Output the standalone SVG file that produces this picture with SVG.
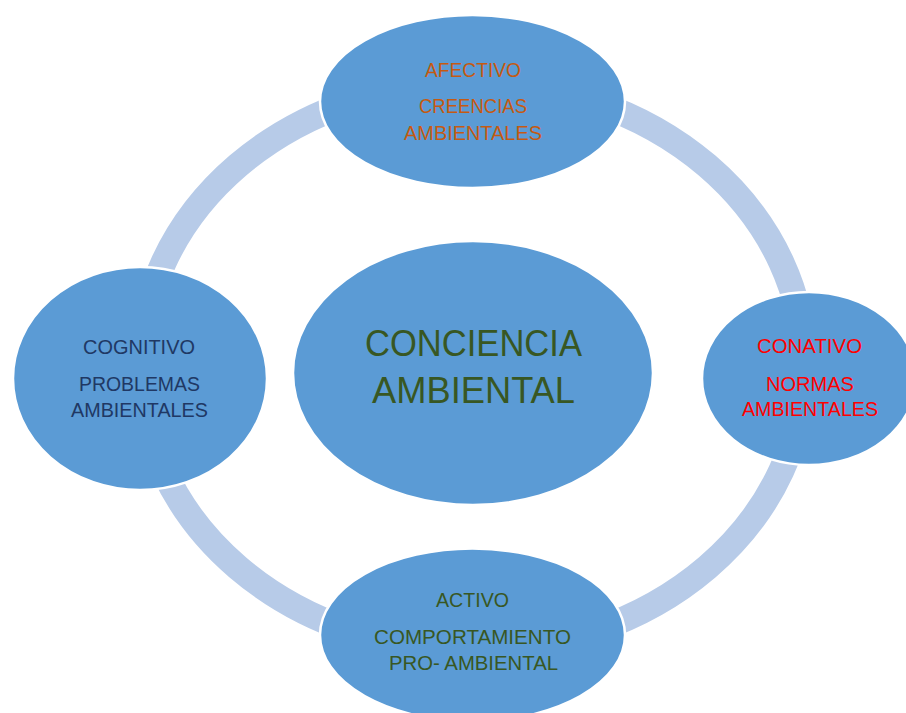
<svg xmlns="http://www.w3.org/2000/svg" width="906" height="713" viewBox="0 0 906 713">
  <style>
    .node { fill: #5b9bd5; stroke: #ffffff; stroke-width: 2.5; }
    .ring { fill: none; stroke: #b7cbe8; stroke-width: 26; stroke-linecap: butt; }
    text { font-family: "Liberation Sans", Arial, sans-serif; font-size: 21px; text-anchor: middle; }
    .big { font-size: 36px; }
    .orange { fill: #c55a11; }
    .navy { fill: #203864; }
    .red { fill: #ff0000; }
    .green { fill: #385723; }
  </style>
  <rect width="906" height="713" fill="#ffffff"/>
  <g id="connectors">
    <path class="ring" d="M472.5,82.5 A332,284 0 0 1 804.5,366.5"/>
    <path class="ring" d="M804.5,366.5 A332,284 0 0 1 472.5,650.5"/>
    <path class="ring" d="M472.5,650.5 A332,284 0 0 1 140.5,366.5"/>
    <path class="ring" d="M140.5,366.5 A332,284 0 0 1 472.5,82.5"/>
  </g>
  <g id="center">
    <ellipse class="node" cx="473" cy="373" rx="180" ry="132"/>
    <text class="big green" x="473.5" y="356" textLength="217" lengthAdjust="spacingAndGlyphs">CONCIENCIA</text>
    <text class="big green" x="473.5" y="403" textLength="203" lengthAdjust="spacingAndGlyphs">AMBIENTAL</text>
  </g>
  <g id="afectivo">
    <ellipse class="node" cx="472.5" cy="101.5" rx="152.5" ry="86.5"/>
    <text class="orange" x="473" y="77" textLength="96" lengthAdjust="spacingAndGlyphs">AFECTIVO</text>
    <text class="orange" x="473" y="113" textLength="108" lengthAdjust="spacingAndGlyphs">CREENCIAS</text>
    <text class="orange" x="473" y="140" textLength="138" lengthAdjust="spacingAndGlyphs">AMBIENTALES</text>
  </g>
  <g id="cognitivo">
    <ellipse class="node" cx="140" cy="378.5" rx="127" ry="111.5"/>
    <text class="navy" x="139" y="354" textLength="112" lengthAdjust="spacingAndGlyphs">COGNITIVO</text>
    <text class="navy" x="139.5" y="391" textLength="121" lengthAdjust="spacingAndGlyphs">PROBLEMAS</text>
    <text class="navy" x="139.5" y="417" textLength="137" lengthAdjust="spacingAndGlyphs">AMBIENTALES</text>
  </g>
  <g id="conativo">
    <ellipse class="node" cx="809" cy="378.5" rx="107" ry="86.5"/>
    <text class="red" x="809.5" y="353" textLength="105" lengthAdjust="spacingAndGlyphs">CONATIVO</text>
    <text class="red" x="810" y="391" textLength="88" lengthAdjust="spacingAndGlyphs">NORMAS</text>
    <text class="red" x="810" y="416" textLength="136" lengthAdjust="spacingAndGlyphs">AMBIENTALES</text>
  </g>
  <g id="activo">
    <ellipse class="node" cx="472.5" cy="635" rx="152.5" ry="86.5"/>
    <text class="green" x="472.5" y="607" textLength="73" lengthAdjust="spacingAndGlyphs">ACTIVO</text>
    <text class="green" x="472.5" y="644" textLength="197" lengthAdjust="spacingAndGlyphs">COMPORTAMIENTO</text>
    <text class="green" x="473.5" y="670" textLength="169" lengthAdjust="spacingAndGlyphs">PRO- AMBIENTAL</text>
  </g>
</svg>
